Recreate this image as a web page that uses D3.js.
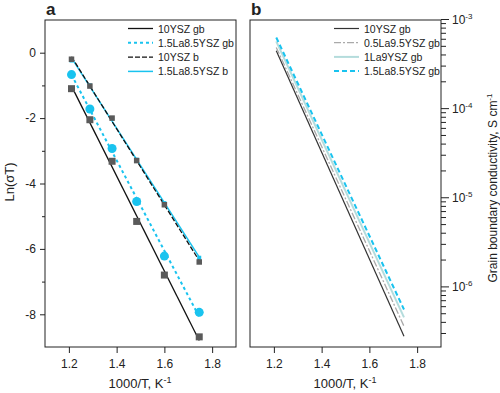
<!DOCTYPE html>
<html>
<head>
<meta charset="utf-8">
<script src="https://cdn.jsdelivr.net/npm/d3@7"></script>
<style>
  body { margin: 0; background: #fff; }
  svg text { font-family: "Liberation Sans", Arial, sans-serif; fill: #222; }
</style>
</head>
<body>
<svg id="chart" width="500" height="393"></svg>
<script>
// panel a: ln(sigma*T) vs 1000/T
const xVals = [1.211, 1.288, 1.381, 1.484, 1.6, 1.746];
const ysz10gb = [-1.1, -2.05, -3.32, -5.16, -6.8, -8.69];
const la15gb = [-0.67, -1.72, -2.93, -4.55, -6.22, -7.94];
const ysz10b = [-0.2, -1.02, -2.0, -3.3, -4.65, -6.4];
const la15b = [-0.24, -1.0, -2.02, -3.27, -4.6, -6.27];

// panel b: grain boundary conductivity lines (start at 1.21, end at 1.745)
const bX = [1.21, 1.745];
const bNames = ["10YSZ gb", "0.5La9.5YSZ gb", "1La9YSZ gb", "1.5La8.5YSZ gb"];
const bStart = [4.4e-4, 4.8e-4, 5.6e-4, 6.2e-4];
const bEnd = [2.76e-7, 3.57e-7, 4.5e-7, 5.5e-7];

const xTicks = [1.2, 1.4, 1.6, 1.8];
const yTicksA = [0, -2, -4, -6, -8];

const cyan = "#19c3ef";
const svg = d3.select("#chart");

function fit(xs, ys) {
  const mx = d3.mean(xs), my = d3.mean(ys);
  let num = 0, den = 0;
  xs.forEach((x, i) => { num += (x - mx) * (ys[i] - my); den += (x - mx) * (x - mx); });
  const k = num / den;
  return x => my + k * (x - mx);
}

// ---------- panel a ----------
const xa = d3.scaleLinear().domain([1.1, 1.9]).range([45, 236]);
const ya = d3.scaleLinear().domain([-9, 1]).range([347, 20]);

const ga = svg.append("g");
ga.append("rect").attr("x", 45).attr("y", 20).attr("width", 191).attr("height", 327)
  .attr("fill", "none").attr("stroke", "#222");

const axXa = ga.append("g").attr("transform", "translate(0,347)")
  .call(d3.axisBottom(xa).tickValues(xTicks).tickSize(6).tickPadding(6).tickFormat(d3.format(".1f")));
const axYa = ga.append("g").attr("transform", "translate(45,0)")
  .call(d3.axisLeft(ya).tickValues(yTicksA).tickSize(5).tickPadding(4).tickFormat(d => d === 0 ? "0" : "-" + Math.abs(d)));
ga.append("g").attr("transform", "translate(45,0)")
  .call(d3.axisLeft(ya).tickValues([-1, -3, -5, -7]).tickSize(3).tickFormat(""))
  .call(a => a.select(".domain").remove())
  .selectAll("line").attr("stroke", "#222");

[axXa, axYa].forEach(a => {
  a.select(".domain").remove();
  a.selectAll("line").attr("stroke", "#222");
  a.selectAll("text").style("font-size", "12px").attr("fill", "#222");
});

ga.append("text").attr("x", 140).attr("y", 388).attr("text-anchor", "middle")
  .style("font-size", "13px").html('1000/T, K<tspan dy="-5" style="font-size:9px">-1</tspan>');
ga.append("text").attr("transform", "translate(14,182) rotate(-90)").attr("text-anchor", "middle")
  .style("font-size", "13px").text("Ln(σT)");
ga.append("text").attr("x", 46).attr("y", 15).style("font-size", "17px").style("font-weight", "bold").text("a");

const seriesA = [
  { name: "10YSZ gb", ys: ysz10gb, color: "#111", dash: null, w: 1.3, mark: "sq", size: 7, mcol: "#5a5a5a" },
  { name: "1.5La8.5YSZ gb", ys: la15gb, color: cyan, dash: "3,3", w: 2, mark: "ci", size: 4.5, mcol: cyan },
  { name: "10YSZ b", ys: ysz10b, color: "#111", dash: "5,2", w: 1.3, mark: "sq", size: 5.5, mcol: "#5a5a5a" },
  { name: "1.5La8.5YSZ b", ys: la15b, color: cyan, dash: null, w: 1.5, mark: "sq", size: 4, mcol: cyan }
];

// draw order: cyan b first so gray squares sit on top
const order = [seriesA[3], seriesA[0], seriesA[1], seriesA[2]];
order.forEach(s => {
  const f = fit(xVals, s.ys);
  const x0 = xVals[0], x1 = xVals[xVals.length - 1];
  ga.append("line").attr("x1", xa(x0)).attr("y1", ya(f(x0))).attr("x2", xa(x1)).attr("y2", ya(f(x1)))
    .attr("stroke", s.color).attr("stroke-width", s.w).attr("stroke-dasharray", s.dash);
});
order.forEach(s => {
  const pts = xVals.map((x, i) => [x, s.ys[i]]);
  if (s.mark === "ci") {
    ga.selectAll(null).data(pts).enter().append("circle")
      .attr("cx", d => xa(d[0])).attr("cy", d => ya(d[1])).attr("r", s.size).attr("fill", s.mcol);
  } else {
    ga.selectAll(null).data(pts).enter().append("rect")
      .attr("x", d => xa(d[0]) - s.size / 2).attr("y", d => ya(d[1]) - s.size / 2)
      .attr("width", s.size).attr("height", s.size).attr("fill", s.mcol);
  }
});

const legA = ga.append("g");
seriesA.forEach((s, i) => {
  const y = 28.5 + i * 14.3;
  legA.append("line").attr("x1", 128).attr("x2", 153).attr("y1", y).attr("y2", y)
    .attr("stroke", s.color).attr("stroke-width", s.w).attr("stroke-dasharray", s.dash);
  legA.append("text").attr("x", 158).attr("y", y + 4).style("font-size", "10.5px").text(s.name);
});

// ---------- panel b ----------
const xb = d3.scaleLinear().domain([1.1, 1.9]).range([250, 441]);
const yb = d3.scaleLog().domain([Math.pow(10, -6.68), 1e-3]).range([347, 19]);

const gb = svg.append("g");
gb.append("rect").attr("x", 250).attr("y", 20).attr("width", 191).attr("height", 327)
  .attr("fill", "none").attr("stroke", "#222");

const axXb = gb.append("g").attr("transform", "translate(0,347)")
  .call(d3.axisBottom(xb).tickValues(xTicks).tickSize(6).tickPadding(6).tickFormat(d3.format(".1f")));
axXb.select(".domain").remove();
axXb.selectAll("line").attr("stroke", "#222");
axXb.selectAll("text").style("font-size", "12px").attr("fill", "#222");

const majors = [1e-3, 1e-4, 1e-5, 1e-6];
const minors = [];
[1e-7, 1e-6, 1e-5, 1e-4].forEach(p => { for (let k = 2; k <= 9; k++) { const v = p * k; if (v >= yb.domain()[0]) minors.push(v); } });

const axYb = gb.append("g").attr("transform", "translate(441,0)")
  .call(d3.axisRight(yb).tickValues(majors).tickSize(8).tickPadding(2).tickFormat(""));
axYb.select(".domain").remove();
axYb.selectAll("line").attr("stroke", "#222");
axYb.selectAll(".tick").append("text").attr("x", 11).attr("dy", "0.35em")
  .style("font-size", "12px").attr("fill", "#222")
  .html(d => '10<tspan dy="-5" style="font-size:8px">' + Math.round(Math.log10(d)) + '</tspan>');
const axYbm = gb.append("g").attr("transform", "translate(441,0)")
  .call(d3.axisRight(yb).tickValues(minors).tickSize(5).tickFormat(""));
axYbm.select(".domain").remove();
axYbm.selectAll("line").attr("stroke", "#222");

gb.append("text").attr("x", 345).attr("y", 388).attr("text-anchor", "middle")
  .style("font-size", "13px").html('1000/T, K<tspan dy="-5" style="font-size:9px">-1</tspan>');
gb.append("text").attr("transform", "translate(497,188) rotate(-90)").attr("text-anchor", "middle")
  .style("font-size", "12px").html('Grain boundary conductivity, S cm<tspan dy="-5" style="font-size:8px">-1</tspan>');
gb.append("text").attr("x", 251).attr("y", 15).style("font-size", "17px").style("font-weight", "bold").text("b");

const bStyles = [
  { color: "#333", dash: null, w: 1.2 },
  { color: "#aaa", dash: "7,2,2,2", w: 1.3 },
  { color: "#b4dcdc", dash: null, w: 2 },
  { color: cyan, dash: "5,3", w: 2 }
];

bNames.forEach((n, i) => {
  const s = bStyles[i];
  gb.append("line").attr("x1", xb(bX[0])).attr("y1", yb(bStart[i])).attr("x2", xb(bX[1])).attr("y2", yb(bEnd[i]))
    .attr("stroke", s.color).attr("stroke-width", s.w).attr("stroke-dasharray", s.dash);
  const y = 28.5 + i * 14.2;
  gb.append("line").attr("x1", 334).attr("x2", 359).attr("y1", y).attr("y2", y)
    .attr("stroke", s.color).attr("stroke-width", s.w).attr("stroke-dasharray", s.dash);
  gb.append("text").attr("x", 364).attr("y", y + 4).style("font-size", "10.5px").text(n);
});
</script>
</body>
</html>
